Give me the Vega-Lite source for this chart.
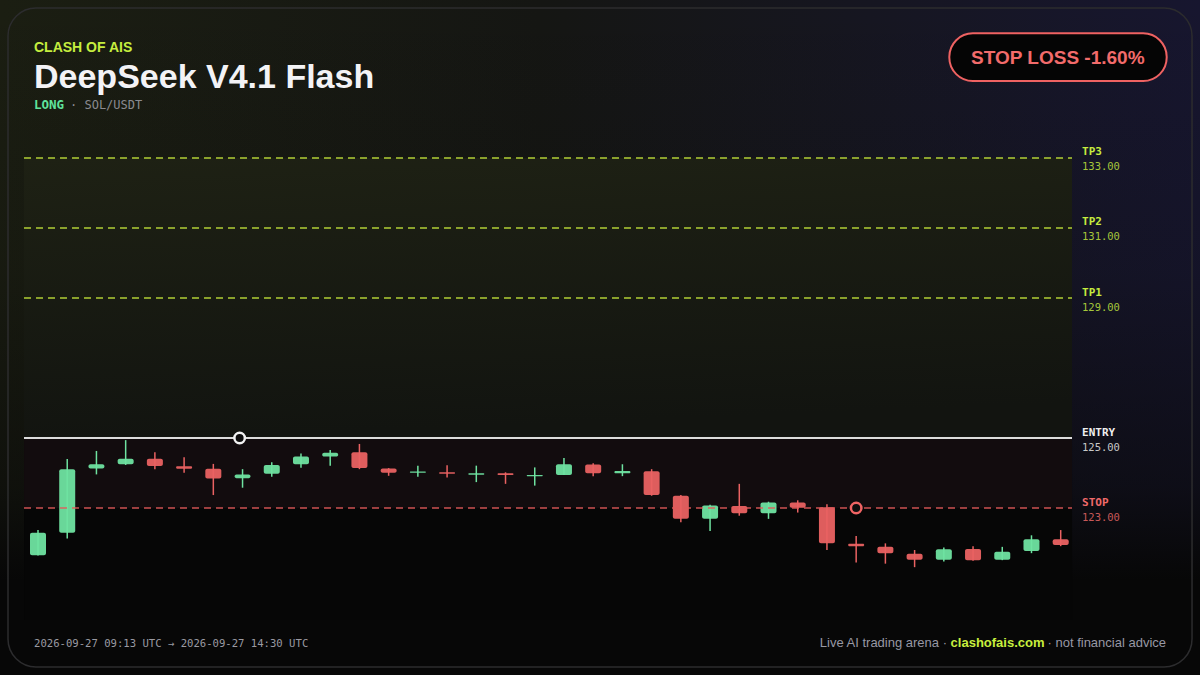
{
  "$schema": "https://vega.github.io/schema/vega-lite/v6.json",
  "width": 1200,
  "height": 675,
  "autosize": {"type": "none"},
  "padding": 0,
  "background": "#080808",
  "config": {"view": {"stroke": null}},
  "datasets": {
    "candles": [
      {"i": 0, "o": 121.65, "h": 122.37, "l": 121.64, "c": 122.29},
      {"i": 1, "o": 122.29, "h": 124.40, "l": 122.13, "c": 124.11},
      {"i": 2, "o": 124.13, "h": 124.63, "l": 123.96, "c": 124.25},
      {"i": 3, "o": 124.25, "h": 124.94, "l": 124.23, "c": 124.41},
      {"i": 4, "o": 124.41, "h": 124.59, "l": 124.11, "c": 124.20},
      {"i": 5, "o": 124.19, "h": 124.45, "l": 124.01, "c": 124.12},
      {"i": 6, "o": 124.12, "h": 124.26, "l": 123.37, "c": 123.84},
      {"i": 7, "o": 123.85, "h": 124.11, "l": 123.58, "c": 123.96},
      {"i": 8, "o": 123.98, "h": 124.31, "l": 123.89, "c": 124.23},
      {"i": 9, "o": 124.25, "h": 124.56, "l": 124.15, "c": 124.47},
      {"i": 10, "o": 124.47, "h": 124.66, "l": 124.21, "c": 124.58},
      {"i": 11, "o": 124.59, "h": 124.83, "l": 124.11, "c": 124.14},
      {"i": 12, "o": 124.13, "h": 124.14, "l": 123.92, "c": 124.01},
      {"i": 13, "o": 124.01, "h": 124.21, "l": 123.89, "c": 124.04},
      {"i": 14, "o": 124.02, "h": 124.22, "l": 123.87, "c": 123.98},
      {"i": 15, "o": 123.95, "h": 124.21, "l": 123.74, "c": 123.99},
      {"i": 16, "o": 123.99, "h": 124.02, "l": 123.69, "c": 123.94},
      {"i": 17, "o": 123.91, "h": 124.16, "l": 123.64, "c": 123.94},
      {"i": 18, "o": 123.94, "h": 124.43, "l": 123.94, "c": 124.25},
      {"i": 19, "o": 124.24, "h": 124.28, "l": 123.91, "c": 123.99},
      {"i": 20, "o": 123.99, "h": 124.25, "l": 123.91, "c": 124.06},
      {"i": 21, "o": 124.05, "h": 124.11, "l": 123.35, "c": 123.37},
      {"i": 22, "o": 123.35, "h": 123.37, "l": 122.59, "c": 122.69},
      {"i": 23, "o": 122.69, "h": 123.09, "l": 122.34, "c": 123.07},
      {"i": 24, "o": 123.06, "h": 123.69, "l": 122.78, "c": 122.85},
      {"i": 25, "o": 122.85, "h": 123.18, "l": 122.69, "c": 123.16},
      {"i": 26, "o": 123.16, "h": 123.22, "l": 122.87, "c": 123.01},
      {"i": 27, "o": 123.02, "h": 123.11, "l": 121.80, "c": 121.99},
      {"i": 28, "o": 121.98, "h": 122.20, "l": 121.44, "c": 121.91},
      {"i": 29, "o": 121.89, "h": 121.99, "l": 121.41, "c": 121.71},
      {"i": 30, "o": 121.69, "h": 121.80, "l": 121.31, "c": 121.52},
      {"i": 31, "o": 121.52, "h": 121.87, "l": 121.47, "c": 121.82},
      {"i": 32, "o": 121.83, "h": 121.91, "l": 121.49, "c": 121.51},
      {"i": 33, "o": 121.52, "h": 121.89, "l": 121.51, "c": 121.75},
      {"i": 34, "o": 121.77, "h": 122.22, "l": 121.71, "c": 122.11},
      {"i": 35, "o": 122.11, "h": 122.37, "l": 121.91, "c": 121.94}
    ],
    "levels": [
      {"name": "TP3", "price": 133, "kind": "tp"},
      {"name": "TP2", "price": 131, "kind": "tp"},
      {"name": "TP1", "price": 129, "kind": "tp"},
      {"name": "ENTRY", "price": 125, "kind": "entry"},
      {"name": "STOP", "price": 123, "kind": "stop"}
    ],
    "markers": [
      {"i": 6.9, "price": 125, "kind": "entry"},
      {"i": 28, "price": 123, "kind": "stop"}
    ]
  },
  "layer": [
    {
      "data": {"values": [{"t": "background"}]},
      "mark": {"type": "rect", "fill": {"gradient": "linear", "x1": 0, "y1": 0, "x2": 1, "y2": 0, "stops": [{"offset": 0, "color": "#1b1e12"}, {"offset": 0.45, "color": "#151613"}, {"offset": 1, "color": "#17162f"}]}},
      "encoding": {
        "x": {"datum": -1.3005, "type": "quantitative", "scale": {"type": "linear", "domain": [-1.3005, 39.767], "nice": false, "zero": false, "padding": 0}, "axis": null},
        "x2": {"datum": 39.767},
        "y": {"datum": 137.514, "type": "quantitative", "scale": {"type": "linear", "domain": [118.229, 137.514], "nice": false, "zero": false, "padding": 0}, "axis": null},
        "y2": {"datum": 118.229}
      }
    },
    {
      "data": {"values": [{"t": "fade"}]},
      "mark": {"type": "rect", "fill": {"gradient": "linear", "x1": 0, "y1": 0, "x2": 0, "y2": 1, "stops": [{"offset": 0, "color": "rgba(8,8,8,0)"}, {"offset": 0.4, "color": "rgba(8,8,8,0.18)"}, {"offset": 0.72, "color": "rgba(8,8,8,0.6)"}, {"offset": 0.86, "color": "rgba(7,7,7,1)"}, {"offset": 1, "color": "rgba(7,7,7,1)"}]}},
      "encoding": {
        "x": {"datum": -1.3005, "type": "quantitative"},
        "x2": {"datum": 39.767},
        "y": {"datum": 137.514, "type": "quantitative"},
        "y2": {"datum": 118.229}
      }
    },
    {
      "data": {"values": [{"zone": "profit"}]},
      "mark": {"type": "rect", "fill": {"gradient": "linear", "x1": 0, "y1": 0, "x2": 0.15, "y2": 1, "stops": [{"offset": 0, "color": "#1e2114"}, {"offset": 1, "color": "#121410"}]}},
      "encoding": {
        "x": {"datum": -0.479, "type": "quantitative"},
        "x2": {"datum": 35.387},
        "y": {"datum": 133, "type": "quantitative"},
        "y2": {"datum": 125}
      }
    },
    {
      "data": {"values": [{"zone": "risk"}]},
      "mark": {"type": "rect", "fill": "#120c0e"},
      "encoding": {
        "x": {"datum": -0.479, "type": "quantitative"},
        "x2": {"datum": 35.387},
        "y": {"datum": 125, "type": "quantitative"},
        "y2": {"datum": 123}
      }
    },
    {
      "data": {"values": [{"zone": "below"}]},
      "mark": {"type": "rect", "fill": "#060606"},
      "encoding": {
        "x": {"datum": -0.479, "type": "quantitative"},
        "x2": {"datum": 35.387},
        "y": {"datum": 123, "type": "quantitative"},
        "y2": {"datum": 119.8}
      }
    },
    {
      "data": {"name": "candles"},
      "mark": {"type": "rule", "strokeWidth": 1.5},
      "encoding": {
        "x": {"field": "i", "type": "quantitative"},
        "y": {"field": "l", "type": "quantitative"},
        "y2": {"field": "h"},
        "color": {"condition": {"test": "datum.c >= datum.o", "value": "#6fe3a1"}, "value": "#ea6262"}
      }
    },
    {
      "data": {"name": "candles"},
      "mark": {"type": "bar", "size": 16, "cornerRadius": 2, "opacity": 0.95},
      "encoding": {
        "x": {"field": "i", "type": "quantitative"},
        "y": {"field": "o", "type": "quantitative"},
        "y2": {"field": "c"},
        "color": {"condition": {"test": "datum.c >= datum.o", "value": "#6fe3a1"}, "value": "#ea6262"}
      }
    },
    {
      "data": {"name": "levels"},
      "transform": [{"filter": "datum.kind !== 'entry'"}],
      "mark": {"type": "rule", "strokeWidth": 1.6, "strokeDash": [7, 5], "opacity": 0.9},
      "encoding": {
        "x": {"datum": -0.479, "type": "quantitative"},
        "x2": {"datum": 35.387},
        "y": {"field": "price", "type": "quantitative"},
        "color": {"condition": {"test": "datum.kind === 'tp'", "value": "#c2e23a"}, "value": "#e25a5a"}
      }
    },
    {
      "data": {"name": "levels"},
      "transform": [{"filter": "datum.kind === 'entry'"}],
      "mark": {"type": "rule", "strokeWidth": 2, "color": "#dcdcdc"},
      "encoding": {
        "x": {"datum": -0.479, "type": "quantitative"},
        "x2": {"datum": 35.387},
        "y": {"field": "price", "type": "quantitative"}
      }
    },
    {
      "data": {"name": "levels"},
      "mark": {"type": "text", "align": "left", "baseline": "alphabetic", "dy": -2.5, "font": "DejaVu Sans Mono", "fontSize": 11, "fontWeight": "bold"},
      "encoding": {
        "x": {"datum": 35.729, "type": "quantitative"},
        "y": {"field": "price", "type": "quantitative"},
        "text": {"field": "name"},
        "color": {"condition": [{"test": "datum.kind === 'tp'", "value": "#c6ec3e"}, {"test": "datum.kind === 'entry'", "value": "#eeeeee"}], "value": "#f06a6a"}
      }
    },
    {
      "data": {"name": "levels"},
      "mark": {"type": "text", "align": "left", "baseline": "alphabetic", "dy": 12.5, "font": "DejaVu Sans Mono", "fontSize": 10.5},
      "encoding": {
        "x": {"datum": 35.729, "type": "quantitative"},
        "y": {"field": "price", "type": "quantitative"},
        "text": {"field": "price", "type": "quantitative", "format": ".2f"},
        "color": {"condition": [{"test": "datum.kind === 'tp'", "value": "#a6c63a"}, {"test": "datum.kind === 'entry'", "value": "#c8c8c8"}], "value": "#c85858"}
      }
    },
    {
      "data": {"name": "markers"},
      "mark": {"type": "point", "shape": "circle", "filled": true, "fill": "#0e0e0e", "strokeWidth": 2.5, "size": 110, "opacity": 1},
      "encoding": {
        "x": {"field": "i", "type": "quantitative"},
        "y": {"field": "price", "type": "quantitative"},
        "stroke": {"condition": {"test": "datum.kind === 'entry'", "value": "#f2f2f2"}, "value": "#f06464"}
      }
    },
    {
      "data": {"values": [{"t": "CLASH OF AIS"}]},
      "mark": {"type": "text", "align": "left", "baseline": "alphabetic", "font": "Liberation Sans", "fontSize": 14, "fontWeight": "bold", "color": "#c5ee3f"},
      "encoding": {
        "x": {"datum": -0.1369, "type": "quantitative"},
        "y": {"datum": 136.037, "type": "quantitative"},
        "text": {"field": "t"}
      }
    },
    {
      "data": {"values": [{"t": "DeepSeek V4.1 Flash"}]},
      "mark": {"type": "text", "align": "left", "baseline": "alphabetic", "font": "Liberation Sans", "fontSize": 34, "fontWeight": "bold", "color": "#f3f3f6"},
      "encoding": {
        "x": {"datum": -0.1369, "type": "quantitative"},
        "y": {"datum": 134.986, "type": "quantitative"},
        "text": {"field": "t"}
      }
    },
    {
      "data": {"values": [{"t": "LONG"}]},
      "mark": {"type": "text", "align": "left", "baseline": "alphabetic", "font": "DejaVu Sans Mono", "fontSize": 12.5, "fontWeight": "bold", "color": "#5fe39b"},
      "encoding": {
        "x": {"datum": -0.1369, "type": "quantitative"},
        "y": {"datum": 134.391, "type": "quantitative"},
        "text": {"field": "t"}
      }
    },
    {
      "data": {"values": [{"t": "· SOL/USDT"}]},
      "mark": {"type": "text", "align": "left", "baseline": "alphabetic", "font": "DejaVu Sans Mono", "fontSize": 12, "color": "#8a8a90"},
      "encoding": {
        "x": {"datum": 1.0951, "type": "quantitative"},
        "y": {"datum": 134.391, "type": "quantitative"},
        "text": {"field": "t"}
      }
    },
    {
      "data": {"values": [{"t": "badge"}]},
      "mark": {"type": "rect", "fill": "#050505", "stroke": "#ef6262", "strokeWidth": 2, "cornerRadius": 23.5},
      "encoding": {
        "x": {"datum": 31.188, "type": "quantitative"},
        "x2": {"datum": 38.627},
        "y": {"datum": 136.563, "type": "quantitative"},
        "y2": {"datum": 135.2}
      }
    },
    {
      "data": {"values": [{"t": "STOP LOSS -1.60%"}]},
      "mark": {"type": "text", "align": "center", "baseline": "alphabetic", "font": "Liberation Sans", "fontSize": 19, "fontWeight": "bold", "color": "#f26b6b"},
      "encoding": {
        "x": {"datum": 34.90, "type": "quantitative"},
        "y": {"datum": 135.686, "type": "quantitative"},
        "text": {"field": "t"}
      }
    },
    {
      "data": {"values": [{"t": "2026-09-27 09:13 UTC → 2026-09-27 14:30 UTC"}]},
      "mark": {"type": "text", "align": "left", "baseline": "alphabetic", "font": "DejaVu Sans Mono", "fontSize": 10.6, "color": "#9a9aa2"},
      "encoding": {
        "x": {"datum": -0.1369, "type": "quantitative"},
        "y": {"datum": 119.02, "type": "quantitative"},
        "text": {"field": "t"}
      }
    },
    {
      "data": {"values": [{"t": "Live AI trading arena ·"}]},
      "mark": {"type": "text", "align": "right", "baseline": "alphabetic", "font": "Liberation Sans", "fontSize": 13, "color": "#9898a4"},
      "encoding": {
        "x": {"datum": 31.109, "type": "quantitative"},
        "y": {"datum": 119.02, "type": "quantitative"},
        "text": {"field": "t"}
      }
    },
    {
      "data": {"values": [{"t": "clashofais.com"}]},
      "mark": {"type": "text", "align": "right", "baseline": "alphabetic", "font": "Liberation Sans", "fontSize": 13, "fontWeight": "bold", "color": "#c8ef3e"},
      "encoding": {
        "x": {"datum": 34.446, "type": "quantitative"},
        "y": {"datum": 119.02, "type": "quantitative"},
        "text": {"field": "t"}
      }
    },
    {
      "data": {"values": [{"t": "· not financial advice"}]},
      "mark": {"type": "text", "align": "right", "baseline": "alphabetic", "font": "Liberation Sans", "fontSize": 13, "color": "#9898a4"},
      "encoding": {
        "x": {"datum": 38.604, "type": "quantitative"},
        "y": {"datum": 119.02, "type": "quantitative"},
        "text": {"field": "t"}
      }
    },
    {
      "data": {"values": [{"t": "card"}]},
      "mark": {"type": "rect", "fill": null, "fillOpacity": 0, "stroke": "#2c2c2e", "strokeWidth": 1.5, "cornerRadius": 28},
      "encoding": {
        "x": {"datum": -1.0267, "type": "quantitative"},
        "x2": {"datum": 39.494},
        "y": {"datum": 137.286, "type": "quantitative"},
        "y2": {"datum": 118.457}
      }
    }
  ]
}
